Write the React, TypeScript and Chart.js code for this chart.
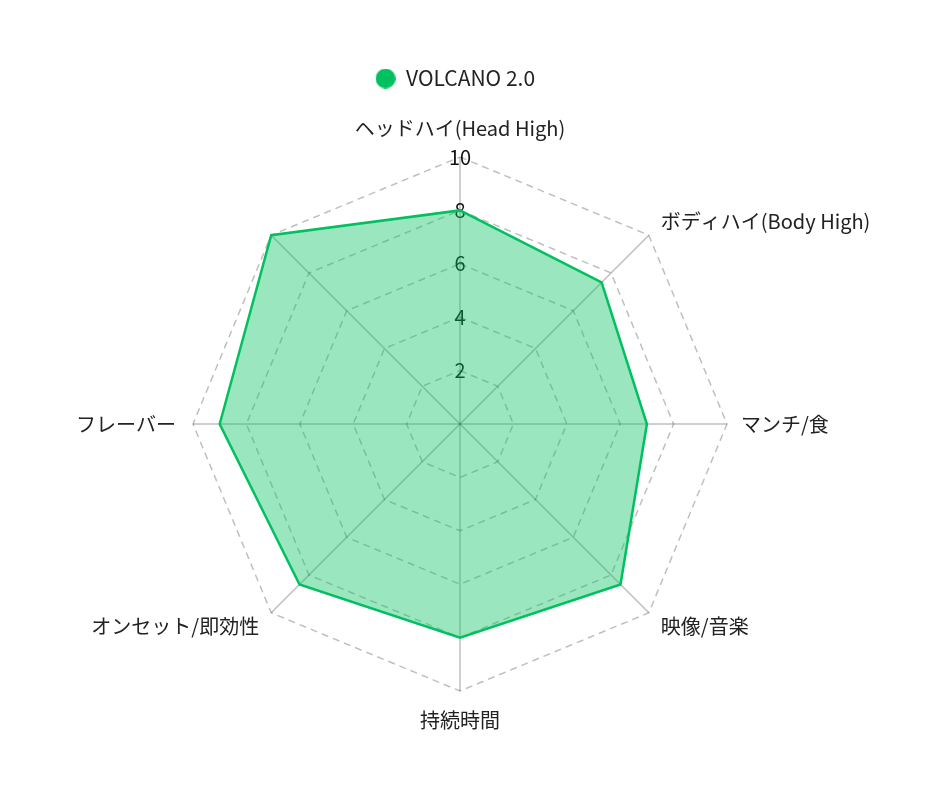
import React, { useEffect, useRef } from "react";
import { Chart, registerables } from "chart.js";

Chart.register(...registerables);

const labels = [
  "ヘッドハイ(Head High)",
  "ボディハイ(Body High)",
  "マンチ/食",
  "映像/音楽",
  "持続時間",
  "オンセット/即効性",
  "フレーバー",
  "",
];
const seriesName = "VOLCANO 2.0";
const values = [8, 7.5, 7, 8.5, 8, 8.5, 9, 10];
const tickMin = 0;
const tickMax = 10;
const tickStep = 2;

const FONT = "'Noto Sans CJK JP', 'Noto Sans', sans-serif";
const LINE = "#00c060";

const legendSpacer = {
  id: "legendSpacer",
  beforeInit(chart: any) {
    const orig = chart.legend.fit;
    chart.legend.fit = function () {
      orig.bind(chart.legend)();
      this.height += 17;
    };
  },
};

function makeDot(): HTMLCanvasElement {
  const c = document.createElement("canvas");
  c.width = 20;
  c.height = 20;
  const g = c.getContext("2d");
  if (g) {
    g.fillStyle = LINE;
    g.beginPath();
    g.arc(10, 10, 10, 0, Math.PI * 2);
    g.fill();
  }
  return c;
}

export default function App() {
  const ref = useRef<HTMLCanvasElement | null>(null);
  useEffect(() => {
    if (!ref.current) return;
    const dot = makeDot();
    const chart = new Chart(ref.current, {
      type: "radar",
      plugins: [legendSpacer],
      data: {
        labels,
        datasets: [
          {
            label: seriesName,
            data: values,
            borderColor: LINE,
            backgroundColor: "rgba(0,192,96,0.4)",
            borderWidth: 2.5,
            pointRadius: 0,
            pointHoverRadius: 0,
            fill: true,
          },
        ],
      },
      options: {
        responsive: true,
        maintainAspectRatio: false,
        animation: false,
        layout: { padding: { top: 50, bottom: 47, left: 0, right: 0 } },
        plugins: {
          legend: {
            display: true,
            labels: {
              usePointStyle: true,
              boxWidth: 20,
              boxHeight: 20,
              color: "#222",
              font: { family: FONT, size: 21 },
              generateLabels: (c: any) =>
                c.data.datasets.map((d: any, i: number) => ({
                  text: d.label + "  ",
                  fillStyle: LINE,
                  strokeStyle: LINE,
                  lineWidth: 0,
                  pointStyle: dot,
                  hidden: false,
                  datasetIndex: i,
                  fontColor: "#222",
                })),
            },
          },
          tooltip: { enabled: false },
        },
        scales: {
          r: {
            min: tickMin,
            max: tickMax,
            ticks: {
              stepSize: tickStep,
              showLabelBackdrop: false,
              color: "#111",
              font: { family: FONT, size: 20 },
            },
            grid: {
              color: "rgba(0,0,0,0.25)",
              lineWidth: 1.5,
            },
            border: { dash: [7, 5] },
            angleLines: { color: "rgba(0,0,0,0.25)", lineWidth: 1.5 },
            pointLabels: {
              color: "#222",
              padding: (ctx: any) => (ctx.index === 2 ? 2 : 5),
              font: (ctx: any) => ({
                family: FONT,
                size: 20,
                lineHeight: ctx.index % 2 === 1 ? 0.15 : 1.2,
              }),
            },
          },
        },
      },
    });
    return () => chart.destroy();
  }, []);
  return (
    <div style={{ width: 904, height: 772, position: "relative" }}>
      <canvas ref={ref} />
    </div>
  );
}
